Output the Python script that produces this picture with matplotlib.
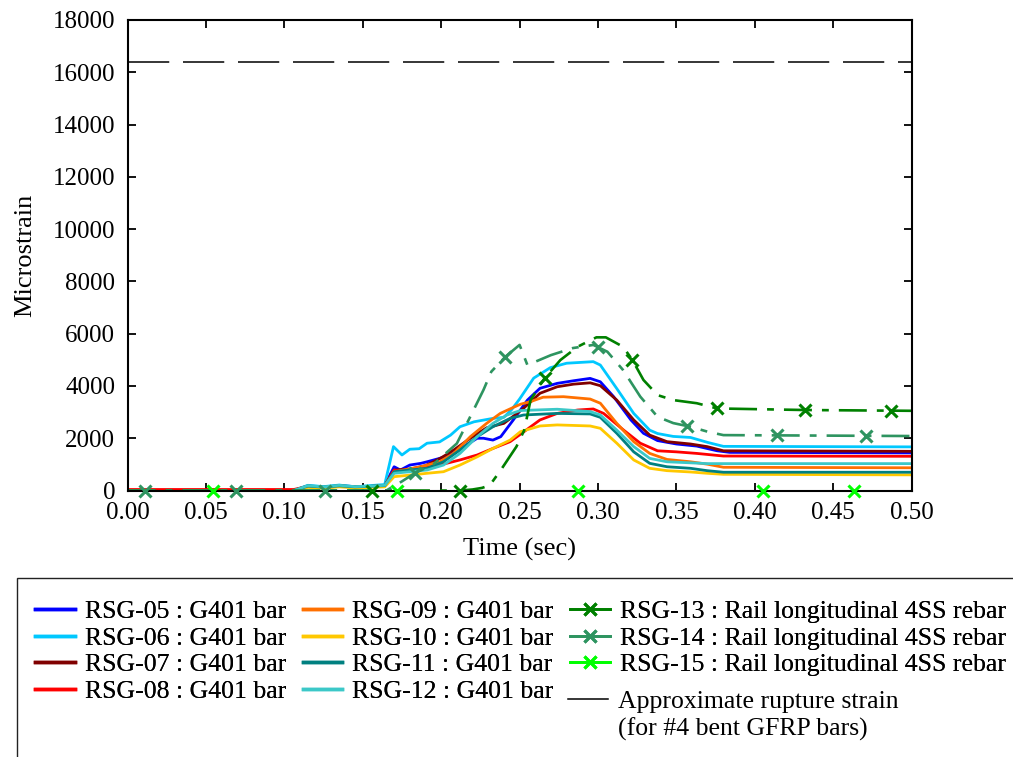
import numpy as np
import matplotlib
matplotlib.use("Agg")
import matplotlib.pyplot as plt
from matplotlib.lines import Line2D
from matplotlib.patches import Rectangle

plt.rcParams['font.family'] = ['Liberation Serif', 'DejaVu Serif']

# ---------------- data ----------------
noise_t = [0.106, 0.115, 0.125, 0.135, 0.145, 0.155, 0.164]

t05 = noise_t + [0.170, 0.174, 0.180, 0.187, 0.191, 0.199, 0.208, 0.216, 0.223, 0.227, 0.233, 0.238,
                 0.246, 0.255, 0.263, 0.274, 0.2845, 0.295, 0.3015, 0.310, 0.321, 0.329, 0.338, 0.350,
                 0.363, 0.376, 0.384, 0.5]
v05 = [0, 180, 130, 190, 150, 160, 200, 910, 785, 975, 1040, 1100, 1230, 1420, 1740, 2000, 2000, 1930,
       2060, 2700, 3460, 3910, 4100, 4200, 4290, 4160, 3590, 2700, 2190, 1910, 1780, 1700, 1520, 1460, 1440]

t06 = noise_t + [0.1696, 0.175, 0.180, 0.186, 0.191, 0.199, 0.206, 0.212, 0.221, 0.233, 0.240, 0.245,
                 0.250, 0.259, 0.2696, 0.280, 0.297, 0.3015, 0.312, 0.3228, 0.333, 0.338, 0.348, 0.359,
                 0.370, 0.380, 0.5]
v06 = [0, 200, 150, 210, 140, 190, 230, 1680, 1360, 1580, 1600, 1810, 1860, 2120, 2440, 2630, 2760, 2800,
       3100, 3500, 4300, 4700, 4870, 4930, 4800, 3900, 2950, 2310, 2180, 2070, 2030, 1840, 1690, 1670]

t07 = noise_t + [0.170, 0.180, 0.190, 0.200, 0.208, 0.2186, 0.229, 0.240, 0.244, 0.2526, 0.263, 0.274,
                 0.2845, 0.295, 0.3015, 0.312, 0.3228, 0.333, 0.344, 0.359, 0.3696, 0.380, 0.5]
v07 = [0, 170, 120, 180, 140, 160, 190, 785, 820, 950, 1250, 1550, 2000, 2400, 2570, 2750, 3150, 3720,
       3970, 4070, 4120, 4010, 3460, 2700, 2120, 1870, 1780, 1680, 1520, 1500]

t08 = [0.0] + noise_t + [0.170, 0.174, 0.187, 0.199, 0.212, 0.223, 0.233, 0.244, 0.2505, 0.263, 0.274,
                         0.287, 0.297, 0.3036, 0.3164, 0.327, 0.338, 0.350, 0.363, 0.380, 0.5]
v08 = [40, 40, 160, 110, 170, 130, 150, 180, 785, 720, 850, 975, 1170, 1360, 1610, 1870, 2150, 2700, 2950,
       3080, 3120, 2950, 2310, 1810, 1520, 1480, 1420, 1320, 1310]

t09 = noise_t + [0.170, 0.187, 0.199, 0.208, 0.2186, 0.229, 0.2377, 0.246, 0.2505, 0.2569, 0.265, 0.278,
                 0.295, 0.3015, 0.312, 0.3228, 0.333, 0.344, 0.359, 0.3696, 0.380, 0.5]
v09 = [0, 150, 110, 170, 130, 150, 170, 720, 910, 1100, 1420, 2060, 2570, 2950, 3180, 3300, 3400, 3570,
       3590, 3500, 3340, 2570, 1870, 1420, 1190, 1100, 1010, 890, 870]

t10 = noise_t + [0.170, 0.180, 0.191, 0.2015, 0.212, 0.223, 0.233, 0.244, 0.2505, 0.263, 0.274, 0.295,
                 0.3015, 0.312, 0.3228, 0.333, 0.344, 0.359, 0.3696, 0.380, 0.5]
v10 = [0, 120, 90, 140, 100, 120, 140, 530, 590, 660, 720, 975, 1290, 1610, 1930, 2250, 2470, 2510, 2470,
       2380, 1810, 1170, 850, 760, 710, 660, 620, 600]

t11 = noise_t + [0.170, 0.180, 0.191, 0.2015, 0.212, 0.223, 0.233, 0.244, 0.2526, 0.274, 0.295, 0.3015,
                 0.312, 0.3228, 0.333, 0.344, 0.359, 0.3696, 0.380, 0.5]
v11 = [0, 170, 130, 180, 140, 160, 190, 720, 785, 850, 1100, 1550, 2060, 2440, 2760, 2890, 2950, 2930,
       2800, 2190, 1480, 1040, 910, 850, 760, 700, 700]

t12 = noise_t + [0.170, 0.180, 0.191, 0.2015, 0.212, 0.223, 0.233, 0.242, 0.2505, 0.274, 0.295, 0.3015,
                 0.312, 0.3228, 0.333, 0.344, 0.359, 0.3696, 0.380, 0.5]
v12 = [0, 190, 140, 200, 150, 170, 200, 660, 720, 785, 975, 1420, 2060, 2570, 2890, 3060, 3110, 3020,
       2890, 2310, 1680, 1230, 1100, 1060, 1030, 1030, 1030]

t13 = [0.0, 0.156, 0.212, 0.220, 0.226, 0.231, 0.238, 0.248, 0.253, 0.257, 0.266, 0.276, 0.287, 0.299,
       0.305, 0.316, 0.322, 0.329, 0.338, 0.348, 0.363, 0.376, 0.432, 0.5]
v13 = [0, 0, 0, 40, 100, 200, 780, 1680, 2310, 3460, 4300, 4990, 5500, 5860, 5860, 5500, 4990, 4230,
       3650, 3460, 3340, 3140, 3080, 3050]
m13 = [0.156, 0.212, 0.266, 0.322, 0.376, 0.432, 0.487]

t14 = [0.0, 0.165, 0.175, 0.183, 0.195, 0.210, 0.220, 0.227, 0.232, 0.241, 0.250, 0.255, 0.270, 0.284,
       0.297, 0.306, 0.316, 0.327, 0.338, 0.348, 0.359, 0.370, 0.380, 0.5]
v14 = [0, 0, 350, 660, 1000, 1800, 3000, 3850, 4550, 5120, 5570, 4800, 5180, 5450, 5570, 5310, 4610,
       3590, 2820, 2580, 2440, 2250, 2120, 2085]
m14 = [0.011, 0.069, 0.126, 0.183, 0.241, 0.300, 0.357, 0.414, 0.471]

t15 = [0.0, 0.5]
v15 = [0, 0]
m15 = [0.0546, 0.172, 0.2875, 0.405, 0.463]

rupture = 16400

labels = ["RSG-05 : G401 bar", "RSG-06 : G401 bar", "RSG-07 : G401 bar", "RSG-08 : G401 bar",
          "RSG-09 : G401 bar", "RSG-10 : G401 bar", "RSG-11 : G401 bar", "RSG-12 : G401 bar",
          "RSG-13 : Rail longitudinal 4SS rebar", "RSG-14 : Rail longitudinal 4SS rebar",
          "RSG-15 : Rail longitudinal 4SS rebar"]
rupture_label = ["Approximate rupture strain", "(for #4 bent GFRP bars)"]

colors = ["#0000ff", "#00c8ff", "#800000", "#ff0000", "#ff7000", "#ffc800", "#008080", "#3cc8c8",
          "#008000", "#2e9460", "#00ff00"]

# ---------------- figure ----------------
fig = plt.figure(figsize=(10.13, 7.57), dpi=100)
ax = fig.add_axes([0.1259, 0.352, 0.774, 0.6216])

solid = [(t05, v05), (t06, v06), (t07, v07), (t08, v08), (t09, v09), (t10, v10), (t11, v11), (t12, v12)]
for (t, v), c in zip(solid, colors[:8]):
    ax.plot(t, v, color=c, lw=2.0)

marked = [(t13, v13, m13, (10.6, 3.8, 2.6, 3.8)), (t14, v14, m14, (10.6, 3.8, 2.6, 3.8)), (t15, v15, m15, None)]
for (t, v, m, d), c in zip(marked, colors[8:11]):
    if d is not None:
        ax.plot(t, v, color=c, lw=1.9, dashes=d)
    else:
        ax.plot(t, v, color=c, lw=1.0, zorder=1)
    ax.plot(m, np.interp(m, t, v), ls='none', marker='x', ms=8.5, mew=2.2, color=c,
            clip_on=False, zorder=3)

ax.axhline(rupture, color='black', lw=1.1, dashes=(27, 9))

ax.set_xlim(0, 0.5)
ax.set_ylim(0, 18000)
ax.set_xticks(np.arange(0, 0.501, 0.05))
ax.set_xticklabels([f"{x:.2f}" for x in np.arange(0, 0.501, 0.05)])
ax.set_yticks(np.arange(0, 18001, 2000))
ax.tick_params(direction='in', length=6, width=1.3, top=True, right=True, labelsize=18)
ax.tick_params(axis='x', pad=8)
ax.tick_params(axis='y', pad=9)
for s in ax.spines.values():
    s.set_linewidth(1.5)
ax.set_xlabel("Time (sec)", fontsize=19, labelpad=10)
ax.set_ylabel("Microstrain", fontsize=19, labelpad=12)

handles = []
for i, c in enumerate(colors):
    if 8 <= i <= 10:
        handles.append(Line2D([], [], color=c, lw=2.0, marker='x', ms=8.5, mew=2.2))
    else:
        handles.append(Line2D([], [], color=c, lw=2.5))

leg_kw = dict(frameon=False, fontsize=18.5, borderpad=0, borderaxespad=0, handlelength=1.55,
              handletextpad=0.38, columnspacing=0.65, labelspacing=0.14)
leg1 = fig.legend(handles, labels, ncol=3, loc='upper left',
                  bbox_to_anchor=(35 / 1013, 1 - 600 / 757), **leg_kw)
leg2 = fig.legend([Line2D([], [], color='black', lw=1.1)], [rupture_label[0]], loc='upper left',
                  bbox_to_anchor=(568 / 1013, 1 - 690 / 757), **leg_kw)
fig.add_artist(leg1)

fig.canvas.draw()
tb = leg2.get_texts()[0].get_window_extent()
fig.text(tb.x0 / fig.bbox.width, 1 - 729 / 757, rupture_label[1], fontsize=18.5,
         ha='left', va='center')

fig.patches.append(Rectangle((17 / 1013, -0.05), 1.2, (757 - 578) / 757 + 0.05,
                             transform=fig.transFigure, fill=False, lw=1.0, ec='#222222'))

fig.savefig("out.png", dpi=100)
